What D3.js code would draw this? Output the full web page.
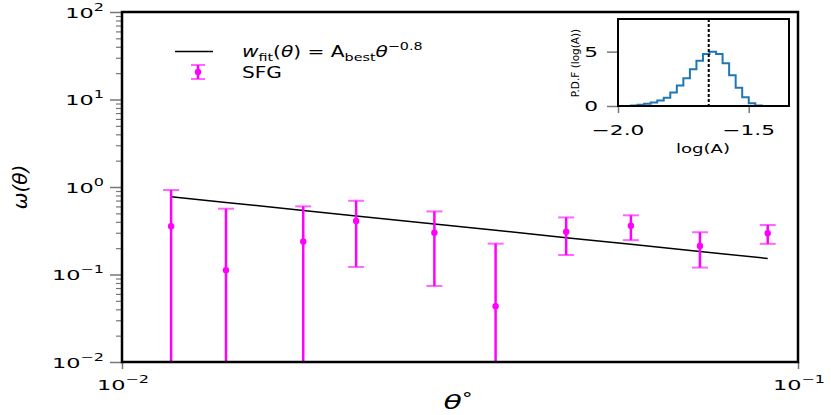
<!DOCTYPE html>
<html>
<head>
<meta charset="utf-8">
<script src="https://cdn.jsdelivr.net/npm/d3@7"></script>
<style>
  body { margin: 0; background: #fff; }
  svg { display: block; font-family: "DejaVu Sans", sans-serif; }
</style>
</head>
<body>
<svg width="831" height="415"></svg>
<script>
// angular correlation points (SFG)
const theta = [0.01182, 0.01425, 0.01854, 0.0222, 0.02898, 0.0357, 0.0454, 0.0566, 0.0716, 0.0902];
const omega = [0.356, 0.112, 0.239, 0.409, 0.300, 0.0433, 0.308, 0.361, 0.212, 0.296];
const omegaErr = [0.568, 0.453, 0.362, 0.287, 0.226, 0.182, 0.141, 0.114, 0.092, 0.072];

// power-law fit
const logABest = -1.653;
const slope = -0.8;

// inset histogram of log(A)
const binEdges = [-1.95, -1.925, -1.9, -1.875, -1.85, -1.825, -1.8, -1.775, -1.75, -1.725, -1.7,
                  -1.675, -1.65, -1.625, -1.6, -1.575, -1.55, -1.525, -1.5, -1.475, -1.45];
const pdf = [0.05, 0.11, 0.2, 0.32, 0.5, 0.75, 1.24, 1.88, 2.55, 3.38, 4.17,
             4.79, 5.0, 4.79, 3.93, 2.83, 1.67, 0.81, 0.26, 0.05];

const xMajor = [0.01, 0.1];
const yMajor = [0.01, 0.1, 1, 10, 100];
const insetXTicks = [-2.0, -1.5];
const insetYTicks = [0, 5];

const svg = d3.select("svg");
const margin = {top: 12, right: 33, bottom: 53, left: 122};
const width = 831, height = 415;

const x = d3.scaleLog()
    .domain([0.01, 0.1])
    .range([margin.left, width - margin.right]);

const y = d3.scaleLog()
    .domain([0.01, 100])
    .range([height - margin.bottom, margin.top]);

const tickGrey = "#777";

// the text in the picture is drawn wide, so horizontal labels get stretched
const hText = (parent, px, py, sx, anchor) => parent.append("g")
    .attr("transform", `translate(${px},${py}) scale(${sx},1)`)
  .append("text")
    .attr("text-anchor", anchor || "start");

// superscripted power-of-ten label
const powLabel = (sel, v) => {
    const e = Math.round(Math.log10(v));
    sel.append("tspan").text("10");
    sel.append("tspan")
        .attr("dy", -7)
        .attr("font-size", 10)
        .text(e < 0 ? "\u2212" + (-e) : e);
};

// y minor ticks
const yMinor = [];
for (let d = -2; d < 2; d++)
    for (let m = 2; m <= 9; m++) yMinor.push(m * Math.pow(10, d));

svg.append("g")
    .attr("transform", `translate(${margin.left},0)`)
    .call(d3.axisLeft(y).tickValues(yMinor).tickSize(6).tickFormat(""))
    .call(g => g.select(".domain").remove())
    .call(g => g.selectAll(".tick line").attr("stroke", tickGrey).attr("stroke-width", 1.2));

svg.append("g")
    .attr("transform", `translate(${margin.left},0)`)
    .call(d3.axisLeft(y).tickValues(yMajor).tickSize(12).tickFormat(""))
    .call(g => g.select(".domain").remove())
    .call(g => g.selectAll(".tick line").attr("stroke", tickGrey).attr("stroke-width", 1.5));

svg.append("g")
    .attr("transform", `translate(0,${height - margin.bottom})`)
    .call(d3.axisBottom(x).tickValues(xMajor).tickSize(7).tickFormat(""))
    .call(g => g.select(".domain").remove())
    .call(g => g.selectAll(".tick line").attr("stroke", tickGrey).attr("stroke-width", 1.5));

// tick labels
yMajor.forEach(v => {
    hText(svg, 104, y(v) + 5.5, 1.6, "end")
        .attr("font-size", 14)
        .call(powLabel, v);
});
xMajor.forEach(v => {
    hText(svg, x(v) + 1, height - margin.bottom + 28, 1.6, "middle")
        .attr("font-size", 14)
        .call(powLabel, v);
});

// clip for data
svg.append("clipPath")
    .attr("id", "plot-clip")
  .append("rect")
    .attr("x", margin.left)
    .attr("y", margin.top)
    .attr("width", width - margin.left - margin.right)
    .attr("height", height - margin.top - margin.bottom);

const plot = svg.append("g").attr("clip-path", "url(#plot-clip)");

// fit line
const fit = t => Math.pow(10, logABest) * Math.pow(t, slope);
plot.append("path")
    .attr("fill", "none")
    .attr("stroke", "#000")
    .attr("stroke-width", 1.5)
    .attr("d", d3.line().x(t => x(t)).y(t => y(fit(t)))(theta));

// error bars
const pts = theta.map((t, i) => ({t, w: omega[i], e: omegaErr[i]}));
const lowY = d => d.w - d.e > 0 ? y(d.w - d.e) : height;
const capW = 8;

plot.selectAll(".eb")
  .data(pts)
  .join("line")
    .attr("x1", d => x(d.t)).attr("x2", d => x(d.t))
    .attr("y1", d => y(d.w + d.e)).attr("y2", lowY)
    .attr("stroke", "#ff00ff")
    .attr("stroke-width", 2.5);

plot.selectAll(".capTop")
  .data(pts)
  .join("line")
    .attr("x1", d => x(d.t) - capW).attr("x2", d => x(d.t) + capW)
    .attr("y1", d => y(d.w + d.e)).attr("y2", d => y(d.w + d.e))
    .attr("stroke", "#ff00ff").attr("stroke-opacity", 0.6)
    .attr("stroke-width", 2);

plot.selectAll(".capBot")
  .data(pts.filter(d => d.w - d.e > 0))
  .join("line")
    .attr("x1", d => x(d.t) - capW).attr("x2", d => x(d.t) + capW)
    .attr("y1", d => y(d.w - d.e)).attr("y2", d => y(d.w - d.e))
    .attr("stroke", "#ff00ff").attr("stroke-opacity", 0.6)
    .attr("stroke-width", 2);

plot.selectAll("circle")
  .data(pts)
  .join("circle")
    .attr("cx", d => x(d.t))
    .attr("cy", d => y(d.w))
    .attr("r", 3.2)
    .attr("fill", "#ff00ff");

// frame
svg.append("rect")
    .attr("x", margin.left)
    .attr("y", margin.top)
    .attr("width", width - margin.left - margin.right)
    .attr("height", height - margin.top - margin.bottom)
    .attr("fill", "none")
    .attr("stroke", "#000")
    .attr("stroke-width", 2.5);

// axis labels
svg.append("text")
    .attr("transform", `translate(27,${(margin.top + height - margin.bottom) / 2}) rotate(-90)`)
    .attr("text-anchor", "middle")
    .attr("font-size", 20)
    .attr("font-style", "italic")
    .text("\u03c9(\u03b8)");

hText(svg, (margin.left + width - margin.right) / 2 - 2, 409, 1.5, "middle")
    .attr("font-size", 20)
    .call(t => {
        t.append("tspan").attr("font-style", "italic").text("\u03b8");
        t.append("tspan").attr("dy", -6).attr("font-size", 14).text("\u00b0");
    });

// legend
const lg = svg.append("g").attr("font-size", 15.5);
lg.append("line")
    .attr("x1", 175).attr("x2", 213)
    .attr("y1", 51.5).attr("y2", 51.5)
    .attr("stroke", "#000").attr("stroke-width", 1.5);

lg.append("line")
    .attr("x1", 198).attr("x2", 198).attr("y1", 65).attr("y2", 79)
    .attr("stroke", "#ff00ff").attr("stroke-width", 2.5);
[65, 79].forEach(cy => lg.append("line")
    .attr("x1", 191).attr("x2", 205).attr("y1", cy).attr("y2", cy)
    .attr("stroke", "#ff00ff").attr("stroke-opacity", 0.6).attr("stroke-width", 2));
lg.append("circle").attr("cx", 198).attr("cy", 72).attr("r", 3.2).attr("fill", "#ff00ff");

hText(lg, 242, 57, 1.3)
    .call(t => {
        t.append("tspan").attr("font-style", "italic").text("w");
        t.append("tspan").attr("dy", 4).attr("font-size", 11).text("fit");
        t.append("tspan").attr("dy", -4).text("(");
        t.append("tspan").attr("font-style", "italic").text("\u03b8");
        t.append("tspan").text(") = A");
        t.append("tspan").attr("dy", 4).attr("font-size", 11).text("best");
        t.append("tspan").attr("dy", -4).attr("font-style", "italic").text("\u03b8");
        t.append("tspan").attr("dy", -7).attr("font-size", 11).text("\u22120.8");
    });

hText(lg, 242, 77.5, 1.3).text("SFG");

// inset
const ix = d3.scaleLinear().domain([-2.0, -1.346]).range([618, 789]);
const iy = d3.scaleLinear().domain([0, 8]).range([106, 19]);
const inset = svg.append("g");

inset.append("rect")
    .attr("x", 618).attr("y", 19).attr("width", 171).attr("height", 87)
    .attr("fill", "#fff");

inset.append("g")
    .attr("transform", "translate(618,0)")
    .call(d3.axisLeft(iy).tickValues(insetYTicks).tickSize(11).tickFormat(""))
    .call(g => g.select(".domain").remove())
    .call(g => g.selectAll(".tick line").attr("stroke", tickGrey).attr("stroke-width", 1.5));

inset.append("g")
    .attr("transform", "translate(0,106)")
    .call(d3.axisBottom(ix).tickValues(insetXTicks).tickSize(7).tickFormat(""))
    .call(g => g.select(".domain").remove())
    .call(g => g.selectAll(".tick line").attr("stroke", tickGrey).attr("stroke-width", 1.5));

insetYTicks.forEach(v => {
    hText(inset, 598, iy(v) + 5, 1.55, "end")
        .attr("font-size", 14)
        .text(v);
});
insetXTicks.forEach(v => {
    hText(inset, ix(v), 135, 1.55, "middle")
        .attr("font-size", 14)
        .text(d3.format(".1f")(v).replace("-", "\u2212"));
});

const stepPts = [[binEdges[0], 0]]
    .concat(pdf.map((v, i) => [binEdges[i], v]))
    .concat([[binEdges[binEdges.length - 1], 0]]);

inset.append("path")
    .attr("fill", "none")
    .attr("stroke", "#1f77b4")
    .attr("stroke-width", 2)
    .attr("d", d3.line().curve(d3.curveStepAfter).x(d => ix(d[0])).y(d => iy(d[1]))(stepPts));

inset.append("line")
    .attr("x1", ix(logABest)).attr("x2", ix(logABest))
    .attr("y1", 19).attr("y2", 106)
    .attr("stroke", "#000").attr("stroke-width", 2)
    .attr("stroke-dasharray", "3,2");

inset.append("rect")
    .attr("x", 618).attr("y", 19).attr("width", 171).attr("height", 87)
    .attr("fill", "none").attr("stroke", "#000").attr("stroke-width", 2);

hText(inset, 703, 153, 1.45, "middle")
    .attr("font-size", 12.5)
    .text("log(A)");

inset.append("text")
    .attr("transform", "translate(579,63) rotate(-90)")
    .attr("text-anchor", "middle")
    .attr("font-size", 10.5)
    .text("P.D.F (log(A))");
</script>
</body>
</html>
